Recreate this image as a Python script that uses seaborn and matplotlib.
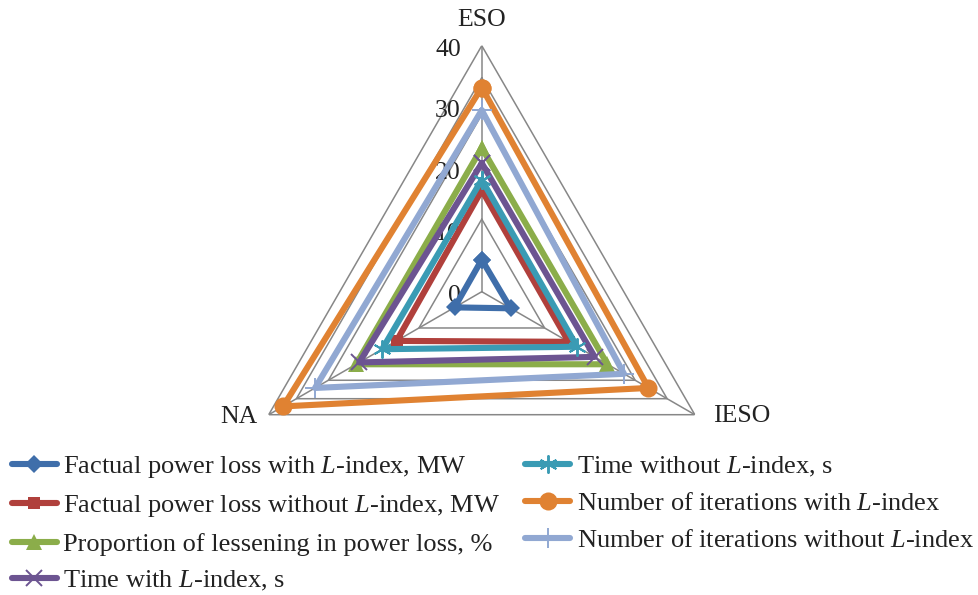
import numpy as np
import pandas as pd
import matplotlib
matplotlib.use("Agg")
import matplotlib.pyplot as plt
import seaborn as sns

# ---- data -------------------------------------------------------------
categories = ["ESO", "IESO", "NA"]
series_names = [
    "Factual power loss with $L$-index, MW",
    "Factual power loss without $L$-index, MW",
    "Proportion of lessening in power loss, %",
    "Time with $L$-index, s",
    "Time without $L$-index, s",
    "Number of iterations with $L$-index",
    "Number of iterations without $L$-index",
]
loss_with_l = [5.2, 5.4, 5.1]
loss_without_l = [16.5, 16.3, 16.0]
lessening_pct = [23.4, 23.6, 23.6]
time_with_l = [20.9, 21.2, 23.0]
time_without_l = [18.2, 17.9, 18.7]
iter_with_l = [33.2, 31.3, 37.3]
iter_without_l = [29.5, 26.7, 31.3]
radial_ticks = [0, 10, 20, 30, 40]

series_values = [loss_with_l, loss_without_l, lessening_pct, time_with_l,
                 time_without_l, iter_with_l, iter_without_l]

# ---- style ------------------------------------------------------------
sns.set_style("white")
plt.rcParams["font.family"] = ["Liberation Serif", "DejaVu Serif"]
plt.rcParams["mathtext.fontset"] = "custom"
plt.rcParams["mathtext.rm"] = "Liberation Serif"
plt.rcParams["mathtext.it"] = "Liberation Serif:italic"

colors = ["#3F6EAA", "#B0403C", "#8BAD4A", "#6C5491",
          "#3A9BB4", "#E08232", "#91A8D2"]
markers = ["D", "s", "^", "x", (6, 2, 0), "o", "+"]
msizes = [9, 9, 11, 12, 13, 13, 15]
grid_color = "#878787"
text_color = "#222222"

# long-form table for plotting
n = len(categories)
theta = np.arange(n) * 2 * np.pi / n
theta_closed = np.append(theta, theta[0])
rows = []
for name, vals in zip(series_names, series_values):
    closed = list(vals) + [vals[0]]
    for t, v in zip(theta_closed, closed):
        rows.append({"series": name, "theta": t, "value": v})
df = pd.DataFrame(rows)

fig = plt.figure(figsize=(9.79, 5.95), dpi=100)
ax = fig.add_axes([0.2408, 0.0963, 0.5026, 0.8269], projection="polar")
ax.set_theta_offset(np.pi / 2)
ax.set_theta_direction(-1)
ax.set_ylim(0, 40)
ax.grid(False)
ax.spines["polar"].set_visible(False)
ax.patch.set_visible(False)
ax.set_xticks([])
ax.set_yticks([])

# triangular web
for lvl in [11.8, 28.8, 34.8, 40]:
    ax.plot(theta_closed, [lvl] * (n + 1), color=grid_color, lw=1.1, zorder=1)
for t in theta:
    ax.plot([t, t], [0, 40], color=grid_color, lw=1.1, zorder=1)

# radial value labels
for v in radial_ticks:
    ax.annotate(str(v), xy=(0, v), xytext=(-21, -4), textcoords="offset pixels",
                ha="right", va="center", fontsize=18.5, color=text_color)

# category labels
offsets = {"ESO": (0, 26, "center"), "IESO": (18, -1, "left"), "NA": (-11, -2, "right")}
for t, c in zip(theta, categories):
    dx, dy, ha = offsets[c]
    ax.annotate(c, xy=(t, 40), xytext=(dx, dy), textcoords="offset pixels",
                ha=ha, va="center", fontsize=18.5, color=text_color,
                annotation_clip=False)

# series
for i, name in enumerate(series_names):
    sub = df[df["series"] == name]
    mk = markers[i]
    line_marker = mk in ("x", "+") or isinstance(mk, tuple)
    sns.lineplot(data=sub, x="theta", y="value", ax=ax, sort=False,
                 estimator=None, color=colors[i], lw=4.4, marker=mk,
                 markersize=msizes[i],
                 markeredgewidth=1.4 if line_marker else 0,
                 markeredgecolor=colors[i], label=name, legend=False,
                 zorder=3 + i, clip_on=False)

handles = [l for l in ax.get_lines() if l.get_label() in series_names]
fig.legend(handles, series_names, ncol=2, loc="upper left",
           bbox_to_anchor=(0.012, 0.237), frameon=False, fontsize=19,
           handlelength=1.7, handletextpad=0.25, columnspacing=0.95,
           labelspacing=0.5, borderpad=0, borderaxespad=0,
           labelcolor=text_color)

fig.savefig("out.png", dpi=100)
